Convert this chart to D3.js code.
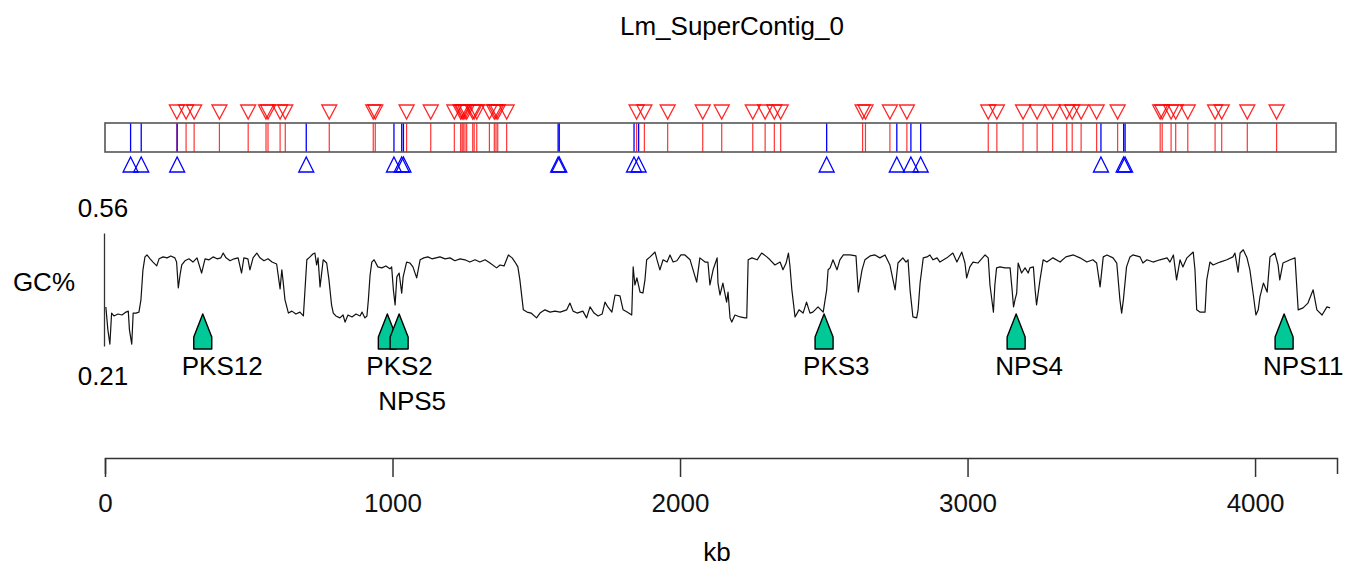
<!DOCTYPE html>
<html>
<head>
<meta charset="utf-8">
<script src="https://cdn.jsdelivr.net/npm/d3@7"></script>
<style>
  body { margin: 0; background: #fff; }
  text { font-family: "Liberation Sans", Arial, sans-serif; }
</style>
</head>
<body>
<script>
// contig length and axis ticks (kb)
const contigLength = 4285;
const xTicks = [0, 1000, 2000, 3000, 4000];
const gcRange = [0.21, 0.56];

// red sites above the track (kb)
const redSites = [250, 282, 310, 398, 498, 560, 567, 609, 627, 780, 933, 940, 1049, 1133,
  1215, 1237, 1242, 1246, 1252, 1258, 1279, 1284, 1293, 1337, 1354, 1360, 1366, 1397,
  1849, 1876, 1957, 2079, 2145, 2253, 2296, 2328, 2350, 2635, 2645, 2730, 2789, 3072,
  3102, 3193, 3242, 3296, 3345, 3364, 3395, 3449, 3522, 3670, 3677, 3708, 3724, 3766,
  3861, 3884, 3973, 4075];

// blue sites below the track (kb)
const blueSites = [89, 126, 251, 700, 1005, 1032, 1038, 1576, 1580, 1840, 1856, 2510,
  2754, 2803, 2837, 3464, 3543, 3548];

// secondary metabolite genes
const geneNames = ["PKS12", "PKS2", "NPS5", "PKS3", "NPS4", "NPS11"];
const genePos = [340, 982, 1023, 2501, 3169, 4101];

// GC content profile
const gcKb = [3, 10, 17, 23, 31, 45, 59, 73, 81, 85, 93, 98, 108, 118, 125, 132, 139, 146,
  157, 167, 180, 188, 202, 216, 229, 243, 249, 255, 261, 267, 278, 292, 306, 320, 336, 348,
  362, 376, 390, 403, 411, 421, 435, 449, 463, 475, 483, 497, 504, 515, 528, 539, 553, 567,
  581, 597, 609,
  615, 619, 626, 638, 650, 664, 678, 690, 702, 713, 723, 730, 736, 741, 748, 759, 771, 779,
  788, 794, 803, 817, 828, 835, 845, 859, 873, 887, 894, 904, 911, 916, 922, 928, 936, 949,
  963, 977, 991, 997, 1003, 1009, 1015, 1023, 1032, 1037, 1049, 1061, 1071, 1084, 1096,
  1109, 1123, 1137, 1151, 1165, 1183, 1200, 1217, 1235, 1252, 1269, 1287,
  1304, 1322, 1339, 1362, 1374, 1388, 1403, 1416, 1426, 1436, 1443, 1455, 1468, 1482, 1501,
  1513, 1530, 1548, 1565, 1583, 1606, 1617, 1628, 1642, 1662, 1675, 1687, 1701, 1715, 1729,
  1739, 1749, 1763, 1774, 1791, 1802, 1816, 1832, 1837, 1843, 1850, 1861, 1871, 1878, 1884,
  1896, 1913, 1920, 1930, 1941, 1955, 1965, 1976, 1989, 2003, 2017, 2035, 2058, 2069, 2087,
  2097, 2104, 2115, 2129, 2132, 2139, 2149, 2162, 2167, 2174, 2180, 2191, 2209, 2226, 2232,
  2237, 2250, 2268, 2284, 2302, 2313, 2330, 2348, 2358, 2369, 2377, 2382, 2389, 2400, 2414,
  2428, 2440, 2452, 2462, 2480, 2490, 2498, 2510, 2515, 2522, 2532, 2546, 2556, 2568, 2591,
  2612, 2620, 2633, 2643, 2661, 2678, 2695, 2713, 2730, 2748, 2758, 2775, 2786,
  2793, 2800, 2810, 2823, 2828, 2835, 2846, 2859, 2869, 2880, 2894, 2904, 2928, 2949, 2963,
  2980, 2991, 2997, 3008, 3019, 3036, 3061, 3072, 3078, 3090, 3095, 3101, 3113, 3130, 3148,
  3155, 3160, 3165, 3171, 3176, 3188, 3200, 3211, 3217, 3229, 3235, 3240, 3252, 3263, 3276,
  3297, 3322, 3342, 3368, 3391, 3415, 3436, 3449, 3461, 3472, 3485, 3506, 3519, 3530, 3536,
  3542, 3553, 3565, 3575, 3600, 3610, 3624, 3645, 3669, 3694, 3704, 3716, 3727, 3739, 3749,
  3763, 3785, 3791, 3797, 3808, 3826, 3832, 3843, 3854, 3878, 3902, 3923, 3930, 3941, 3948,
  3959, 3972, 3982, 3994, 4003, 4011, 4017, 4029, 4042, 4052, 4069, 4080, 4086, 4097, 4122,
  4139, 4150, 4167, 4184, 4202, 4215, 4233, 4250, 4261];
const gcVal = [0.331, 0.260, 0.216, 0.312, 0.303, 0.309, 0.306, 0.315, 0.318, 0.260, 0.216,
  0.312, 0.312, 0.315, 0.353, 0.446, 0.486, 0.492, 0.480, 0.470, 0.458, 0.480, 0.486, 0.483,
  0.489, 0.483, 0.470, 0.390, 0.430, 0.461, 0.474, 0.480, 0.470, 0.483, 0.436, 0.480, 0.477,
  0.486, 0.480, 0.483, 0.498, 0.483, 0.474, 0.480, 0.483, 0.436, 0.483, 0.480, 0.446, 0.483,
  0.498, 0.483, 0.474, 0.480, 0.470, 0.464, 0.387,
  0.446, 0.415, 0.353, 0.312, 0.318, 0.309, 0.315, 0.303, 0.477, 0.486, 0.495, 0.498, 0.461,
  0.483, 0.393, 0.477, 0.467, 0.415, 0.337, 0.312, 0.303, 0.297, 0.306, 0.284, 0.306, 0.300,
  0.309, 0.303, 0.315, 0.297, 0.303, 0.353, 0.430, 0.470, 0.477, 0.455, 0.452, 0.458, 0.449,
  0.455, 0.384, 0.337, 0.424, 0.436, 0.374, 0.424, 0.470, 0.467, 0.455, 0.421, 0.477, 0.483,
  0.486, 0.480, 0.483, 0.486, 0.480, 0.483, 0.474, 0.480, 0.477, 0.470, 0.477,
  0.470, 0.477, 0.467, 0.452, 0.461, 0.458, 0.492, 0.483, 0.470, 0.455, 0.415, 0.322, 0.315,
  0.312, 0.297, 0.312, 0.322, 0.315, 0.318, 0.315, 0.322, 0.343, 0.318, 0.312, 0.318, 0.297,
  0.331, 0.312, 0.303, 0.309, 0.346, 0.331, 0.315, 0.368, 0.365, 0.322, 0.315, 0.306, 0.455,
  0.399, 0.421, 0.377, 0.374, 0.415, 0.477, 0.486, 0.501, 0.477, 0.446, 0.477, 0.470, 0.492,
  0.470, 0.474, 0.492, 0.492, 0.477, 0.408, 0.483, 0.470, 0.470, 0.399, 0.446, 0.483, 0.405,
  0.368, 0.405, 0.346, 0.377, 0.297, 0.284, 0.306, 0.300, 0.297, 0.297, 0.477, 0.483, 0.477,
  0.498, 0.486, 0.477, 0.461, 0.470, 0.446, 0.467, 0.498, 0.461, 0.384, 0.300, 0.322, 0.312,
  0.346, 0.312, 0.315, 0.331, 0.322, 0.315, 0.384, 0.446, 0.452, 0.477, 0.446, 0.477, 0.492,
  0.492, 0.489, 0.377, 0.446, 0.477, 0.489, 0.492, 0.483, 0.492, 0.461, 0.384, 0.467, 0.483,
  0.470,
  0.477, 0.384, 0.300, 0.297, 0.322, 0.405, 0.483, 0.486, 0.492, 0.477, 0.483, 0.470, 0.483,
  0.498, 0.470, 0.501, 0.467, 0.421, 0.455, 0.470, 0.467, 0.492, 0.483, 0.399, 0.315, 0.399,
  0.452, 0.455, 0.452, 0.452, 0.384, 0.331, 0.353, 0.374, 0.467, 0.436, 0.452, 0.436, 0.452,
  0.455, 0.384, 0.337, 0.415, 0.477, 0.470, 0.483, 0.470, 0.486, 0.492, 0.483, 0.470, 0.477,
  0.467, 0.393, 0.486, 0.492, 0.483, 0.467, 0.353, 0.312, 0.353, 0.455, 0.486, 0.492, 0.486,
  0.467, 0.477, 0.470, 0.477, 0.483, 0.470, 0.492, 0.415, 0.477, 0.455, 0.483, 0.501, 0.446,
  0.322, 0.315, 0.315, 0.415, 0.470, 0.461, 0.470, 0.477, 0.486, 0.498, 0.439, 0.498, 0.508,
  0.483, 0.446, 0.368, 0.306, 0.322, 0.362, 0.405, 0.377, 0.486, 0.498, 0.461, 0.415, 0.467,
  0.477, 0.483, 0.322, 0.328, 0.343, 0.384, 0.322, 0.306, 0.331, 0.328];

const W = 1364, H = 571;
const svg = d3.select("body").append("svg")
  .attr("width", W).attr("height", H);

const x = d3.scaleLinear().domain([0, contigLength]).range([105, 1337]);
const y = d3.scaleLinear().domain(gcRange).range([346, 233]);

const font = 26;

// title
svg.append("text")
  .attr("x", 732).attr("y", 35)
  .attr("text-anchor", "middle")
  .attr("font-size", font)
  .text("Lm_SuperContig_0");

// ---- feature track ----
const trackTop = 123, trackBot = 152;

svg.append("g").selectAll("line.red")
  .data(redSites).enter().append("line")
  .attr("class", "red")
  .attr("x1", d => x(d)).attr("x2", d => x(d))
  .attr("y1", trackTop).attr("y2", trackBot)
  .attr("stroke", "#ff0000").attr("stroke-width", 1.2).attr("stroke-opacity", 0.8);

svg.append("g").selectAll("path.redtri")
  .data(redSites).enter().append("path")
  .attr("class", "redtri")
  .attr("d", d => "M" + (x(d) - 7.5) + ",105 L" + (x(d) + 7.5) + ",105 L" + x(d) + ",119 Z")
  .attr("fill", "none").attr("stroke", "#ff0000").attr("stroke-width", 1.3).attr("stroke-opacity", 0.85);

svg.append("g").selectAll("line.blue")
  .data(blueSites).enter().append("line")
  .attr("class", "blue")
  .attr("x1", d => x(d)).attr("x2", d => x(d))
  .attr("y1", trackTop).attr("y2", trackBot)
  .attr("stroke", "#0000ff").attr("stroke-width", 1.3);

svg.append("g").selectAll("path.bluetri")
  .data(blueSites).enter().append("path")
  .attr("class", "bluetri")
  .attr("d", d => "M" + x(d) + ",157 L" + (x(d) + 7.5) + ",172 L" + (x(d) - 7.5) + ",172 Z")
  .attr("fill", "none").attr("stroke", "#0000ff").attr("stroke-width", 1.3);

svg.append("rect")
  .attr("x", x(0)).attr("y", trackTop)
  .attr("width", x(contigLength) - x(0) - 1).attr("height", trackBot - trackTop)
  .attr("fill", "none").attr("stroke", "#555").attr("stroke-width", 1.6);

// ---- GC profile ----
svg.append("g")
  .attr("transform", "translate(" + (x(0) - 1) + ",0)")
  .call(d3.axisLeft(y).tickValues([]).tickSizeOuter(0))
  .select(".domain").attr("stroke", "#333").attr("stroke-width", 1.3);

svg.append("text").attr("x", x(0) - 2).attr("y", y(gcRange[1]) - 16)
  .attr("text-anchor", "middle").attr("font-size", font).text(gcRange[1].toFixed(2));
svg.append("text").attr("x", x(0) - 2).attr("y", y(gcRange[0]) + 39)
  .attr("text-anchor", "middle").attr("font-size", font).text(gcRange[0].toFixed(2));
svg.append("text").attr("x", 75).attr("y", 291)
  .attr("text-anchor", "end").attr("font-size", font).text("GC%");

const gcLine = d3.line()
  .x((d, i) => x(gcKb[i]))
  .y(d => y(d));

svg.append("path")
  .datum(gcVal)
  .attr("d", gcLine)
  .attr("fill", "none")
  .attr("stroke", "#111")
  .attr("stroke-width", 1.2)
  .attr("stroke-linejoin", "round");

// ---- gene markers ----
const markerTop = 314;
const genes = svg.append("g");
genes.selectAll("path.gene")
  .data(genePos).enter().append("path")
  .attr("class", "gene")
  .attr("d", d => {
    const cx = x(d);
    return "M" + cx + "," + markerTop +
      " L" + (cx + 9) + "," + (markerTop + 23) +
      " L" + (cx + 9) + "," + (markerTop + 35) +
      " L" + (cx - 9) + "," + (markerTop + 35) +
      " L" + (cx - 9) + "," + (markerTop + 23) + " Z";
  })
  .attr("fill", "#00c896")
  .attr("stroke", "#000")
  .attr("stroke-width", 1.4)
  .attr("stroke-linejoin", "round");

// labels, pushed down a row when they would overlap the previous one
let lastRight = [-Infinity, -Infinity];
geneNames.forEach(function(name, i) {
  const lx = x(genePos[i]) - 21;
  const t = genes.append("text")
    .attr("x", lx).attr("font-size", font).text(name);
  const w = t.node().getComputedTextLength();
  let row = 0;
  if (lx < lastRight[0] + 4) row = 1;
  lastRight[row] = lx + w;
  t.attr("y", 375 + row * 35);
});

// ---- x axis ----
const xAxis = svg.append("g")
  .attr("transform", "translate(0,458)")
  .call(d3.axisBottom(x).tickValues(xTicks).tickFormat(d3.format("d"))
    .tickSize(19).tickSizeOuter(16).tickPadding(17));
xAxis.select(".domain").attr("stroke", "#333").attr("stroke-width", 1.5);
xAxis.selectAll(".tick line").attr("stroke", "#333").attr("stroke-width", 1.5);
xAxis.selectAll(".tick text")
  .attr("font-size", font)
  .attr("font-family", "'Liberation Sans', Arial, sans-serif")
  .attr("fill", "#111");

svg.append("text")
  .attr("x", 717).attr("y", 561)
  .attr("text-anchor", "middle")
  .attr("font-size", font)
  .text("kb");
</script>
</body>
</html>
